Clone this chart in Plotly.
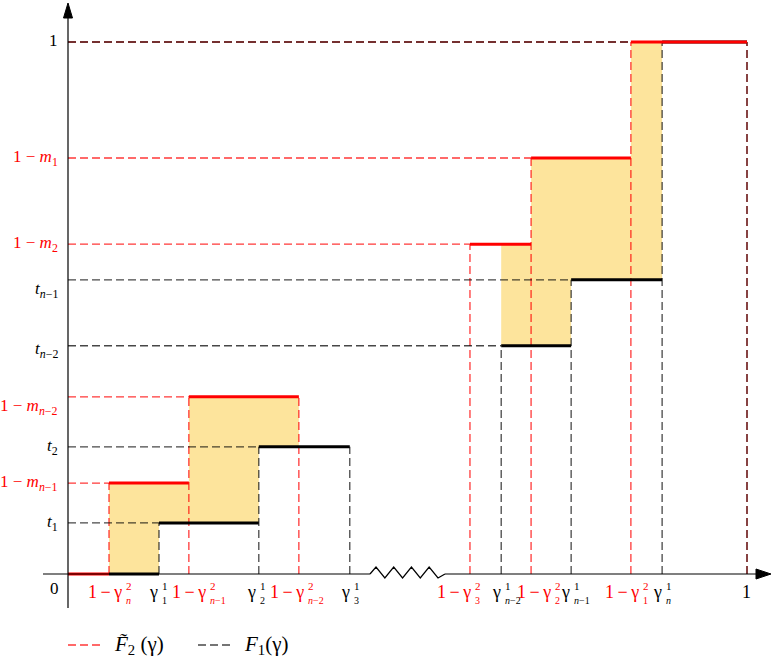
import plotly.graph_objects as go

# ---- step functions (schematic abscissae on [0, 1], axis broken between the two groups)
# F2~ : red, F1 : black; level[i] holds on [x[i], x[i+1]]
f2_left_x = [0.0, 0.0604, 0.178, 0.340]
f2_left_lev = [0.0, 0.171, 0.333]
f1_left_x = [0.0604, 0.134, 0.281, 0.415]
f1_left_lev = [0.0, 0.096, 0.239]
f2_right_x = [0.592, 0.682, 0.829, 1.0]
f2_right_lev = [0.620, 0.782, 1.0]
f1_right_x = [0.638, 0.741, 0.875, 1.0]
f1_right_lev = [0.429, 0.553, 1.0]

# ---- vertical-axis labels
y_label_vals = [1.0, 0.782, 0.620, 0.553, 0.429, 0.333, 0.239, 0.171, 0.096]
y_label_text = ["1", "1 − <i>m</i><sub>1</sub>", "1 − <i>m</i><sub>2</sub>",
                "<i>t</i><sub><i>n</i>−1</sub>", "<i>t</i><sub><i>n</i>−2</sub>",
                "1 − <i>m</i><sub><i>n</i>−2</sub>", "<i>t</i><sub>2</sub>",
                "1 − <i>m</i><sub><i>n</i>−1</sub>", "<i>t</i><sub>1</sub>"]
y_label_red = [False, True, True, False, False, True, False, True, False]

# ---- horizontal-axis labels: base, superscript, subscript
ONE_MINUS_G = "1\u2009−\u2009γ"
x_label_vals = [0.0604, 0.134, 0.178, 0.281, 0.340, 0.415,
                0.592, 0.638, 0.682, 0.741, 0.829, 0.875]
x_label_base = [ONE_MINUS_G, "γ", ONE_MINUS_G, "γ", ONE_MINUS_G, "γ",
                ONE_MINUS_G, "γ", ONE_MINUS_G, "γ", ONE_MINUS_G, "γ"]
x_label_sup = ["2", "1", "2", "1", "2", "1", "2", "1", "2", "1", "2", "1"]
x_label_sub = ["<i>n</i>", "1", "<i>n</i>−1", "2", "<i>n</i>−2", "3",
               "3", "<i>n</i>−2", "2", "<i>n</i>−1", "1", "<i>n</i>"]
x_label_red = [True, False, True, False, True, False,
               True, False, True, False, True, False]

RED = "#FF0000"
RED_DASH = "rgba(255,0,0,0.78)"
BLACK_DASH = "rgba(0,0,0,0.72)"
FILL = "#FDE49C"
FONT = "Liberation Serif"

# pixel -> data scale factors for the 771x667 canvas
X0, X1 = -68 / 679, 703 / 679
Y0, Y1 = (574 - 667) / 532, 574 / 532
DX = 1 / 679
DY = 1 / 532


def step_value(xs, lev, x):
    for i in range(len(lev)):
        if xs[i] <= x < xs[i + 1]:
            return lev[i]
    return lev[-1]


def band(f2x, f2l, f1x, f1l):
    a = max(f2x[0], f1x[0])
    b = min(f2x[-1], f1x[-1])
    br = sorted({v for v in f2x + f1x if a <= v <= b})
    top, bot = [], []
    for i in range(len(br) - 1):
        u = step_value(f2x, f2l, br[i])
        d = step_value(f1x, f1l, br[i])
        top += [(br[i], u), (br[i + 1], u)]
        bot += [(br[i], d), (br[i + 1], d)]
    pts = top + bot[::-1]
    return [p[0] for p in pts] + [pts[0][0]], [p[1] for p in pts] + [pts[0][1]]


def horizontals(xs, lev):
    hx, hy = [], []
    for i in range(len(lev)):
        hx += [xs[i], xs[i + 1], None]
        hy += [lev[i], lev[i], None]
    return hx, hy


def guides(xs, lev):
    gx, gy = [], []
    for i in range(len(lev)):
        if lev[i] > 0:
            gx += [0, xs[i], None, xs[i], xs[i], None]
            gy += [lev[i], lev[i], None, 0, lev[i], None]
    gx += [xs[-1], xs[-1], None]
    gy += [0, lev[-1], None]
    return gx, gy


fig = go.Figure()

# shaded gap between the two step functions
for f2x, f2l, f1x, f1l in [(f2_left_x, f2_left_lev, f1_left_x, f1_left_lev),
                           (f2_right_x, f2_right_lev, f1_right_x, f1_right_lev)]:
    px_, py_ = band(f2x, f2l, f1x, f1l)
    fig.add_trace(go.Scatter(x=px_, y=py_, mode="lines", fill="toself",
                             fillcolor=FILL, line=dict(width=0),
                             hoverinfo="skip", showlegend=False))

# dashed guide lines
for color, pairs in [(RED_DASH, [(f2_left_x, f2_left_lev), (f2_right_x, f2_right_lev)]),
                     (BLACK_DASH, [(f1_left_x, f1_left_lev), (f1_right_x, f1_right_lev)])]:
    gx, gy = [], []
    for xs, lev in pairs:
        a, b = guides(xs, lev)
        gx += a
        gy += b
    fig.add_trace(go.Scatter(x=gx, y=gy, mode="lines",
                             line=dict(color=color, width=1.3, dash="8px,4px"),
                             hoverinfo="skip", showlegend=False))

# solid step levels
for color, pairs in [("#000000", [(f1_left_x, f1_left_lev), (f1_right_x, f1_right_lev)]),
                     (RED, [(f2_left_x, f2_left_lev), (f2_right_x, f2_right_lev)])]:
    hx, hy = [], []
    for xs, lev in pairs:
        a, b = horizontals(xs, lev)
        hx += a
        hy += b
    fig.add_trace(go.Scatter(x=hx, y=hy, mode="lines",
                             line=dict(color=color, width=3),
                             hoverinfo="skip", showlegend=False))

shapes = []
axis_line = dict(color="black", width=1.2)
# vertical axis with arrow
shapes.append(dict(type="line", xref="x", yref="y", x0=0, x1=0,
                   y0=-34 * DY, y1=1.05, line=axis_line))
shapes.append(dict(type="path", xref="x", yref="y",
                   path=f"M {-4.5*DX},{(574-18)*DY} L 0,{(574-3)*DY} L {4.5*DX},{(574-18)*DY} Z",
                   fillcolor="black", line=dict(color="black", width=1)))
# horizontal axis with break and arrow
brk_a, brk_b = (370 - 68) * DX, (445 - 68) * DX
shapes.append(dict(type="line", xref="x", yref="y", x0=-25 * DX, x1=brk_a,
                   y0=0, y1=0, line=axis_line))
shapes.append(dict(type="line", xref="x", yref="y", x0=brk_b, x1=(758 - 68) * DX,
                   y0=0, y1=0, line=axis_line))
teeth = 7
zig = f"M {brk_a},0"
lead = 6 * DX
step = (brk_b - brk_a - lead - 7 * DX) / teeth
zig += f" L {brk_a + lead},{7*DY}"
for k in range(1, teeth + 1):
    yy = -4 * DY if k % 2 == 1 else 7 * DY
    zig += f" L {brk_a + lead + k*step},{yy}"
zig += f" L {brk_b},0"
shapes.append(dict(type="path", xref="x", yref="y", path=zig,
                   line=dict(color="black", width=1.2)))
shapes.append(dict(type="path", xref="x", yref="y",
                   path=f"M {(756-68)*DX},{5*DY} L {(771-68)*DX},0 L {(756-68)*DX},{-5*DY} Z",
                   fillcolor="black", line=dict(color="black", width=1)))

# legend samples
shapes.append(dict(type="line", xref="x", yref="y", x0=0, x1=34 * DX,
                   y0=(574 - 645) * DY, y1=(574 - 645) * DY,
                   line=dict(color=RED_DASH, width=1.3, dash="8px,4px")))
shapes.append(dict(type="line", xref="x", yref="y", x0=(198 - 68) * DX, x1=(232 - 68) * DX,
                   y0=(574 - 645) * DY, y1=(574 - 645) * DY,
                   line=dict(color=BLACK_DASH, width=1.3, dash="8px,4px")))

ann = []
y_shift = {3: -10, 4: -4, 5: -10}
for i, (v, t, r) in enumerate(zip(y_label_vals, y_label_text, y_label_red)):
    ann.append(dict(x=0, y=v, xref="x", yref="y", text=t, showarrow=False,
                    xanchor="right", yanchor="middle", xshift=-8,
                    yshift=y_shift.get(i, 0) + (2 if i == 0 else 0),
                    font=dict(family=FONT, size=17, color=RED if r else "black")))

x_shift = [15, 1, 19, -1, 7, 2, 3, 2, 22, 1, 10, 2]
for v, b, sp, sb, r, s in zip(x_label_vals, x_label_base, x_label_sup,
                              x_label_sub, x_label_red, x_shift):
    c = RED if r else "black"
    ann.append(dict(x=v, y=0, xref="x", yref="y", text=b, showarrow=False,
                    xanchor="right", yanchor="middle", xshift=s, yshift=-18,
                    font=dict(family=FONT, size=18, color=c)))
    ann.append(dict(x=v, y=0, xref="x", yref="y", text=sp, showarrow=False,
                    xanchor="left", yanchor="middle", xshift=s, yshift=-12,
                    font=dict(family=FONT, size=11, color=c)))
    ann.append(dict(x=v, y=0, xref="x", yref="y", text=sb, showarrow=False,
                    xanchor="left", yanchor="middle", xshift=s, yshift=-26,
                    font=dict(family=FONT, size=10, color=c)))

ann.append(dict(x=0, y=0, xref="x", yref="y", text="0", showarrow=False,
                xanchor="right", yanchor="middle", xshift=-7, yshift=-14,
                font=dict(family=FONT, size=17, color="black")))
ann.append(dict(x=1, y=0, xref="x", yref="y", text="1", showarrow=False,
                xanchor="center", yanchor="middle", xshift=-1, yshift=-18,
                font=dict(family=FONT, size=18, color="black")))

# legend texts
ann.append(dict(x=(112 - 68) * DX, y=(574 - 645) * DY, xref="x", yref="y",
                text="<i>F\u0303</i><sub>2</sub> (γ)", showarrow=False,
                xanchor="left", yanchor="middle",
                font=dict(family=FONT, size=21, color="black")))
ann.append(dict(x=(242 - 68) * DX, y=(574 - 645) * DY, xref="x", yref="y",
                text="<i>F</i><sub>1</sub>(γ)", showarrow=False,
                xanchor="left", yanchor="middle",
                font=dict(family=FONT, size=21, color="black")))

fig.update_layout(
    width=771, height=667,
    margin=dict(l=0, r=0, t=0, b=0),
    paper_bgcolor="white", plot_bgcolor="white",
    xaxis=dict(range=[X0, X1], visible=False, fixedrange=True),
    yaxis=dict(range=[Y0, Y1], visible=False, fixedrange=True),
    shapes=shapes, annotations=ann, showlegend=False,
)

fig.write_html("out.html")
